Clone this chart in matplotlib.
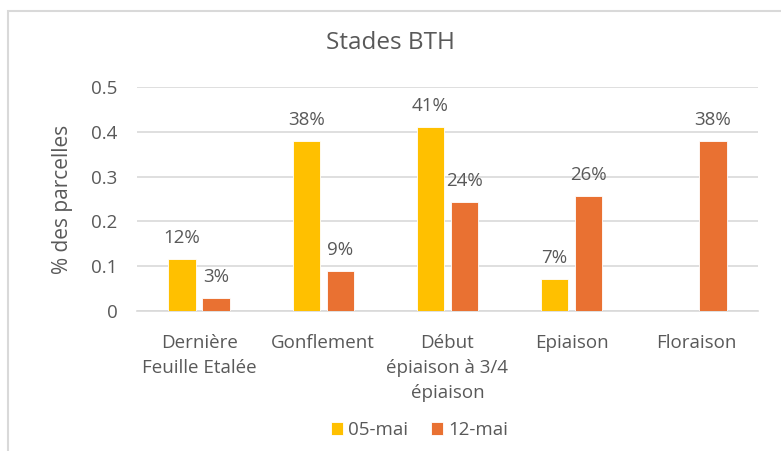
import matplotlib
matplotlib.use("Agg")
import matplotlib.pyplot as plt
import numpy as np
from matplotlib.patches import Rectangle

categories = ["Dernière\nFeuille Etalée", "Gonflement", "Début\népiaison à 3/4\népiaison", "Epiaison", "Floraison"]
series_names = ["05-mai", "12-mai"]
values_0505 = [0.117, 0.380, 0.410, 0.072, 0.0]
values_1205 = [0.029, 0.090, 0.243, 0.256, 0.379]
labels_0505 = ["12%", "38%", "41%", "7%", ""]
labels_1205 = ["3%", "9%", "24%", "26%", "38%"]
yticks = [0, 0.1, 0.2, 0.3, 0.4, 0.5]
ytick_labels = ["0", "0.1", "0.2", "0.3", "0.4", "0.5"]

plt.rcParams['font.family'] = ['Open Sans', 'DejaVu Sans']
txt = "#595959"
grid_c = "#D9D9D9"
colors = ["#FFC000", "#E97132"]
fs = 13.5

fig = plt.figure(figsize=(7.81, 4.51), dpi=100)
fig.patch.set_facecolor("white")
ax = fig.add_axes([137/781, 1-311/451, (758-137)/781, (311-87)/451])

x = np.arange(len(categories))
w = 0.22
off = 0.137
for vals, labs, c, o, name in [(values_0505, labels_0505, colors[0], -off, series_names[0]),
                               (values_1205, labels_1205, colors[1], off, series_names[1])]:
    bars = ax.bar(x + o, vals, width=w, color=c, label=name, zorder=3,
                  edgecolor="white", linewidth=0.6)
    for b, lab in zip(bars, labs):
        if lab:
            ax.annotate(lab, (b.get_x() + b.get_width()/2, b.get_height()),
                        xytext=(0, 11.5), textcoords="offset points",
                        ha="center", va="baseline", fontsize=fs, color=txt)

ax.set_ylim(0, 0.5)
ax.set_xlim(-0.5, len(categories) - 0.5)
ax.set_yticks(yticks)
ax.set_yticklabels(ytick_labels)
ax.set_xticks(x)
ax.set_xticklabels(categories, linespacing=1.5)
ax.tick_params(axis="both", length=0, labelsize=fs, colors=txt)
ax.tick_params(axis="y", pad=14)
ax.tick_params(axis="x", pad=16.5)
ax.grid(axis="y", color=grid_c, linewidth=1.2, zorder=0)
for s in ["top", "right", "left"]:
    ax.spines[s].set_visible(False)
ax.spines["bottom"].set_color(grid_c)
ax.spines["bottom"].set_linewidth(1.2)

ax.set_ylabel("% des parcelles", fontsize=15, color=txt, labelpad=13)
fig.text(0.5, 1-43/451, "Stades BTH", ha="center", va="center", fontsize=17.5, color=txt)

leg = fig.legend(loc="center", bbox_to_anchor=(419.5/781, 1-430/451), ncol=2, frameon=False,
                 fontsize=fs, handlelength=0.65, handleheight=0.65, handletextpad=0.3,
                 columnspacing=1.2, labelcolor=txt)

fig.patches.append(Rectangle((8/781, -0.1), 1.2, 1.1 - 11/451, transform=fig.transFigure,
                             fill=False, edgecolor="#D9D9D9", linewidth=1.5))

fig.savefig("out.png", dpi=100)
